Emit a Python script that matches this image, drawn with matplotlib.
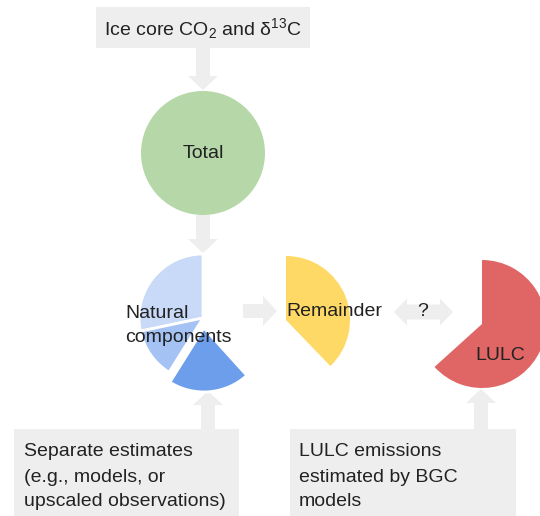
import matplotlib
matplotlib.use('Agg')
import matplotlib.pyplot as plt
from matplotlib.patches import FancyArrow, Rectangle

plt.rcParams['font.family'] = ['Liberation Sans', 'DejaVu Sans']
plt.rcParams['mathtext.fontset'] = 'custom'
plt.rcParams['mathtext.rm'] = 'Liberation Sans'
plt.rcParams['mathtext.it'] = 'Liberation Sans:italic'

W, H = 540, 516

# pie slices as fractions of a full circle
total_frac = [1.0]
natural_frac = [0.283, 0.128, 0.206]
natural_colors = ['#c9daf8', '#a4c2f4', '#6d9eeb']
natural_explode = [0, 0, 10]
remainder_frac = [0.378]
lulc_frac = [0.633]

top_label = 'Ice core CO$_2$ and δ$^{13}$C'
left_box = ['Separate estimates', '(e.g., models, or', 'upscaled observations)']
right_box = ['LULC emissions', 'estimated by BGC', 'models']

grey = '#eeeeee'
txt = '#222222'
fs = 14

fig = plt.figure(figsize=(5.4, 5.16), dpi=100)
ax = fig.add_axes([0, 0, 1, 1])


def Y(v):
    # picture rows run downwards
    return H - v


def arrow(x0, y0, x1, y1, w=14, hw=30, hl=14):
    ax.add_patch(FancyArrow(x0, Y(y0), x1 - x0, Y(y1) - Y(y0), width=w,
                            head_width=hw, head_length=hl,
                            length_includes_head=True, color=grey, lw=0))


# boxes
ax.add_patch(Rectangle((96, Y(48)), 214, 41, color=grey, lw=0))
ax.add_patch(Rectangle((14, Y(516)), 225, 87, color=grey, lw=0))
ax.add_patch(Rectangle((290, Y(516)), 226, 87, color=grey, lw=0))

# arrows
arrow(203, 48, 203, 90)
arrow(203, 215, 203, 253)
arrow(243, 311, 277, 311)
arrow(423, 312, 394, 312, w=15, hw=27, hl=13)
arrow(423, 312, 453, 312, w=15, hw=27, hl=13)
arrow(208, 429, 208, 391)
arrow(481, 429, 481, 389)

# pies
ax.pie(total_frac, colors=['#b6d7a8'], center=(203, Y(153)), radius=62,
       frame=True)
ax.pie(natural_frac, colors=natural_colors, startangle=90, counterclock=True,
       center=(203, Y(318)), radius=64, explode=natural_explode,
       normalize=False, frame=True,
       wedgeprops=dict(edgecolor='white', linewidth=2))
ax.pie(remainder_frac, colors=['#ffd966'], startangle=90, counterclock=False,
       center=(286, Y(320)), radius=64, normalize=False, frame=True)
ax.pie(lulc_frac, colors=['#e06666'], startangle=90, counterclock=False,
       center=(482, Y(324)), radius=64, normalize=False, frame=True)

# labels
ax.text(203, Y(29), top_label, fontsize=fs, color=txt, ha='center', va='center')
ax.text(203, Y(153), 'Total', fontsize=fs, color=txt, ha='center', va='center')
ax.text(125, Y(313), 'Natural', fontsize=fs, color=txt, va='center')
ax.text(125, Y(337), 'components', fontsize=fs, color=txt, va='center')
ax.text(286, Y(311), 'Remainder', fontsize=fs, color=txt, va='center')
ax.text(423, Y(312), '?', fontsize=fs, color=txt, ha='center', va='center')
ax.text(500, Y(356), 'LULC', fontsize=fs, color=txt, ha='center', va='center')
for i, line in enumerate(left_box):
    ax.text(24, Y(452 + 25 * i), line, fontsize=fs, color=txt, va='center')
for i, line in enumerate(right_box):
    ax.text(299, Y(452 + 25 * i), line, fontsize=fs, color=txt, va='center')

ax.set_xlim(0, W)
ax.set_ylim(0, H)
ax.axis('off')
fig.savefig('out.png', dpi=100)
